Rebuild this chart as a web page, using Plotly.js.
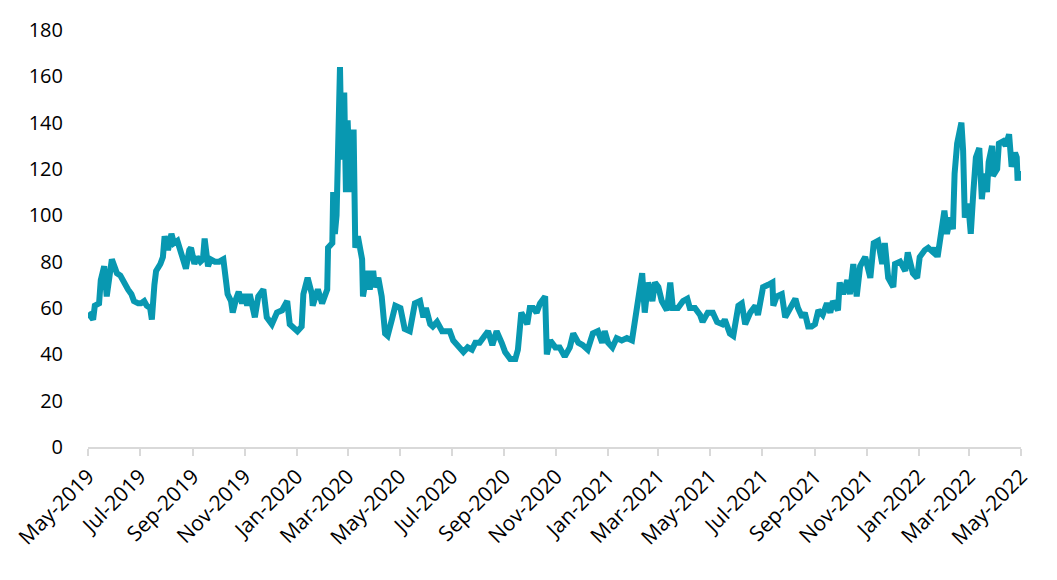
<!DOCTYPE html>
<html>
<head>
<meta charset="utf-8">
<script src="https://cdn.plot.ly/plotly-3.0.1.min.js"></script>
<style>html,body{margin:0;padding:0;background:#fff;}#chart{width:1057px;height:580px;}</style>
</head>
<body>
<div id="chart"></div>
<script>
const dates = [
'2019-05-01','2019-05-03','2019-05-07','2019-05-09','2019-05-14','2019-05-16','2019-05-20','2019-05-23','2019-05-26','2019-05-29',
'2019-06-02','2019-06-04','2019-06-08','2019-06-11','2019-06-13','2019-06-17','2019-06-21','2019-06-24','2019-06-29',
'2019-07-02','2019-07-06','2019-07-09','2019-07-13','2019-07-15','2019-07-18','2019-07-20','2019-07-25','2019-07-28','2019-07-30',
'2019-08-03','2019-08-07','2019-08-10','2019-08-14','2019-08-17','2019-08-21','2019-08-24','2019-08-28','2019-08-30',
'2019-09-03','2019-09-06','2019-09-10','2019-09-13','2019-09-15','2019-09-19','2019-09-22','2019-09-27',
'2019-10-02','2019-10-07','2019-10-10','2019-10-12','2019-10-16','2019-10-18','2019-10-22','2019-10-25','2019-10-29',
'2019-11-01','2019-11-04','2019-11-07','2019-11-13','2019-11-17','2019-11-23','2019-11-27',
'2019-12-03','2019-12-09','2019-12-15','2019-12-21','2019-12-24',
'2020-01-02','2020-01-07','2020-01-09','2020-01-14','2020-01-19','2020-01-20','2020-01-26','2020-01-31',
'2020-02-06','2020-02-07','2020-02-12','2020-02-13','2020-02-15','2020-02-17','2020-02-21','2020-02-23','2020-02-26','2020-02-28',
'2020-03-01','2020-03-04','2020-03-08','2020-03-10','2020-03-13','2020-03-18','2020-03-19','2020-03-24','2020-03-27','2020-03-31',
'2020-04-02','2020-04-06','2020-04-10','2020-04-14','2020-04-17','2020-04-22','2020-04-26',
'2020-05-02','2020-05-07','2020-05-13','2020-05-19','2020-05-25','2020-05-29',
'2020-06-01','2020-06-06','2020-06-09','2020-06-14','2020-06-20','2020-06-26','2020-06-29',
'2020-07-03','2020-07-09','2020-07-15','2020-07-20','2020-07-25','2020-07-29',
'2020-08-03','2020-08-09','2020-08-13','2020-08-18','2020-08-23','2020-08-29',
'2020-09-02','2020-09-08','2020-09-14','2020-09-17','2020-09-21','2020-09-24','2020-09-28',
'2020-10-01','2020-10-05','2020-10-09','2020-10-13','2020-10-19','2020-10-21','2020-10-25','2020-10-31',
'2020-11-05','2020-11-11','2020-11-17','2020-11-21','2020-11-27',
'2020-12-02','2020-12-08','2020-12-14','2020-12-20','2020-12-25','2020-12-28',
'2021-01-01','2021-01-06','2021-01-11','2021-01-17','2021-01-23','2021-01-29',
'2021-02-02','2021-02-05','2021-02-10','2021-02-13','2021-02-17','2021-02-22','2021-02-25',
'2021-03-01','2021-03-05','2021-03-11','2021-03-15','2021-03-18','2021-03-24','2021-03-30',
'2021-04-04','2021-04-07','2021-04-13','2021-04-19','2021-04-22','2021-04-28',
'2021-05-04','2021-05-09','2021-05-15','2021-05-18','2021-05-24','2021-05-28',
'2021-06-03','2021-06-07','2021-06-11','2021-06-17','2021-06-23','2021-06-26',
'2021-07-02','2021-07-08','2021-07-13','2021-07-14','2021-07-18','2021-07-24','2021-07-28',
'2021-08-03','2021-08-09','2021-08-12','2021-08-17','2021-08-20','2021-08-24','2021-08-28',
'2021-09-01','2021-09-05','2021-09-10','2021-09-15','2021-09-19','2021-09-22','2021-09-28','2021-09-30',
'2021-10-04','2021-10-09','2021-10-12','2021-10-16','2021-10-20','2021-10-24','2021-10-30',
'2021-11-05','2021-11-09','2021-11-14','2021-11-19','2021-11-22','2021-11-26',
'2021-12-02','2021-12-04','2021-12-10','2021-12-16','2021-12-19','2021-12-25','2021-12-30',
'2022-01-02','2022-01-08','2022-01-12','2022-01-18','2022-01-20','2022-01-23','2022-01-28','2022-01-31',
'2022-02-03','2022-02-07','2022-02-10','2022-02-12','2022-02-15','2022-02-20','2022-02-22','2022-02-24','2022-02-28',
'2022-03-03','2022-03-06','2022-03-09','2022-03-13','2022-03-16','2022-03-19','2022-03-22','2022-03-24','2022-03-28','2022-03-29',
'2022-04-03','2022-04-05','2022-04-10','2022-04-13','2022-04-17','2022-04-20','2022-04-24','2022-04-26','2022-04-27','2022-04-29','2022-04-30'
];
const values = [
58,57,55,61,62,72,78,65,75,81,
77,75,74,72,70,68,66,63,62,
62,63,61,60,55,70,76,79,82,91,
85,92,88,89,85,81,77,85,86,
79,82,80,81,90,78,81,80,
80,81,72,66,63,58,64,67,62,
66,61,66,56,65,68,56,
53,58,59,63,53,
50,52,66,73,66,61,68,62,
68,86,88,110,92,100,164,124,153,110,
141,110,137,86,91,81,65,76,68,76,
69,73,65,49,48,55,61,
60,51,50,62,63,56,
60,53,52,54,50,50,50,
46,43,41,43,42,45,
45,48,50,44,50,45,
41,38,38,42,58,56,53,
60,60,58,62,65,40,46,43,
43,39,43,49,45,
44,42,49,50,45,50,
45,43,47,46,47,46,
56,62,75,58,71,63,71,
69,63,59,71,60,60,63,
64,60,60,57,54,58,
58,54,53,55,49,48,
61,62,53,58,61,57,
69,70,71,61,65,66,56,
60,64,60,56,58,52,52,
53,59,57,62,58,63,59,71,
66,72,66,79,65,78,82,
73,88,89,79,88,73,
69,79,80,76,84,75,73,
82,85,86,84,86,82,98,102,
92,99,94,118,131,140,128,99,105,
92,110,125,129,107,118,110,123,130,117,
120,131,132,130,135,121,127,125,115,119,115
];
const yTicks = [0,20,40,60,80,100,120,140,160,180];

const trace = {
  x: dates, y: values, type: 'scatter', mode: 'lines',
  line: {color: '#0898B1', width: 6, shape: 'linear'},
  hoverinfo: 'x+y'
};
const xFont = {family: 'Open Sans, Noto Sans, sans-serif', size: 21, color: '#000000'};
const yFont = {family: 'Open Sans, Noto Sans, sans-serif', size: 20, color: '#000000'};
const layout = {
  width: 1057, height: 580,
  margin: {l: 88, r: 36, t: 30, b: 133},
  paper_bgcolor: '#fff', plot_bgcolor: '#fff',
  showlegend: false,
  font: {family: 'Open Sans, Noto Sans, sans-serif', size: 20, color: '#000000'},
  xaxis: {
    type: 'date', range: ['2019-05-01', '2022-05-01'],
    tick0: '2019-05-01', dtick: 'M2', tickformat: '%b-%Y', tickangle: -45,
    showgrid: false, zeroline: false,
    showline: true, linecolor: '#d9d9d9', linewidth: 2,
    ticks: 'outside', ticklen: 7, tickwidth: 2, tickcolor: '#d9d9d9',
    tickfont: xFont
  },
  yaxis: {
    range: [0, 180], tickvals: yTicks, ticktext: yTicks.map(String),
    showgrid: false, zeroline: false, showline: false,
    ticks: 'outside', ticklen: 20, tickcolor: 'rgba(0,0,0,0)',
    tickfont: yFont
  }
};
Plotly.newPlot('chart', [trace], layout, {displayModeBar: false, staticPlot: true});
</script>
</body>
</html>
